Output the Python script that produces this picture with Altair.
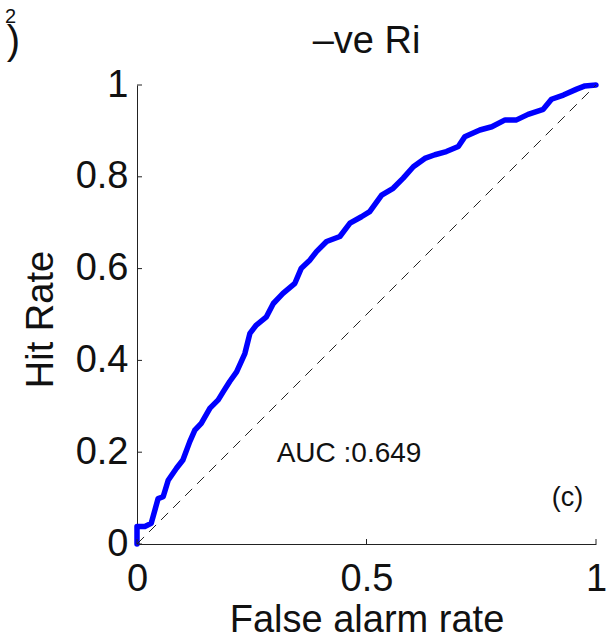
import altair as alt
import pandas as pd

# ROC curve for the negative-Ri class
fpr = [0, 0, 0.017, 0.031, 0.046, 0.057, 0.068, 0.086, 0.100, 0.115, 0.126, 0.140,
       0.159, 0.177, 0.188, 0.202, 0.217, 0.235, 0.246, 0.260, 0.282, 0.297, 0.318,
       0.344, 0.358, 0.377, 0.391, 0.413, 0.442, 0.464, 0.489, 0.507, 0.533, 0.558,
       0.580, 0.602, 0.627, 0.649, 0.674, 0.700, 0.714, 0.747, 0.773, 0.802, 0.827,
       0.852, 0.885, 0.903, 0.929, 0.958, 0.976, 1.0]
tpr = [0, 0.038, 0.038, 0.045, 0.099, 0.103, 0.139, 0.165, 0.183, 0.223, 0.248, 0.263,
       0.296, 0.314, 0.332, 0.354, 0.375, 0.415, 0.459, 0.477, 0.495, 0.524, 0.546,
       0.568, 0.601, 0.619, 0.637, 0.659, 0.670, 0.699, 0.713, 0.724, 0.760, 0.775,
       0.797, 0.822, 0.840, 0.848, 0.855, 0.866, 0.887, 0.902, 0.909, 0.924, 0.924,
       0.936, 0.947, 0.969, 0.978, 0.991, 0.998, 1.0]
chance_x = [0, 1]
chance_y = [0, 1]
x_ticks = [0, 0.5, 1]
y_ticks = [0, 0.2, 0.4, 0.6, 0.8, 1]
panel_title = "–ve Ri"
auc_label = "AUC :0.649"
panel_tag = "(c)"

FONT = "Liberation Sans"
INK = "#111111"
W = H = 459

roc = pd.DataFrame({"x": fpr, "y": tpr, "i": range(len(fpr))})
chance = pd.DataFrame({"x": chance_x, "y": chance_y})
xt = pd.DataFrame({"x": x_ticks})
yt = pd.DataFrame({"y": y_ticks})

xscale = alt.Scale(domain=[0, 1], nice=False, zero=False)
yscale = alt.Scale(domain=[0, 1], nice=False, zero=False)

x_axis = alt.Axis(values=x_ticks, format="~g", title="False alarm rate",
                  titleY=87, titleBaseline="alphabetic", labelPadding=16)
y_axis = alt.Axis(values=y_ticks, format="~g", title="Hit Rate",
                  titleX=-85, titleY=234, titleBaseline="alphabetic",
                  titleAngle=-90, labelPadding=9)

X = alt.X("x:Q", scale=xscale, axis=x_axis)
Y = alt.Y("y:Q", scale=yscale, axis=y_axis)

curve = alt.Chart(roc).mark_line(
    color="#0000ff", strokeWidth=5.5, strokeJoin="round", strokeCap="round"
).encode(x=X, y=Y, order="i:Q")

diag = alt.Chart(chance).mark_line(
    color="#222222", strokeWidth=1, strokeDash=[10, 7]
).encode(x=X, y=Y)

# inward-pointing tick marks
left_ticks = alt.Chart(yt).mark_rule(color="#222222", strokeWidth=1).encode(
    y=Y, x=alt.value(0), x2=alt.value(5)
)
bottom_ticks = alt.Chart(xt).mark_rule(color="#222222", strokeWidth=1).encode(
    x=X, y=alt.value(H), y2=alt.value(H - 5)
)


def label(text, size, align, x, y):
    return alt.Chart(pd.DataFrame({"t": [text]})).mark_text(
        font=FONT, fontSize=size, align=align, baseline="alphabetic", color=INK
    ).encode(x=x, y=y, text="t:N")


title_text = label(panel_title, 38, "center", alt.datum(0.5, scale=xscale), alt.value(-32))
auc_text = label(auc_label, 28, "center",
                 alt.datum(0.462, scale=xscale), alt.datum(0.179, scale=yscale))
tag_text = label(panel_tag, 27, "center",
                 alt.datum(0.938, scale=xscale), alt.datum(0.083, scale=yscale))

# edge of the neighbouring panel's label
edge_paren = label(")", 40, "right", alt.value(-117), alt.value(-31))
edge_sup = label("2", 20, "right", alt.value(-121), alt.value(-62))

chart = alt.layer(
    curve, diag, left_ticks, bottom_ticks, title_text, auc_text, tag_text,
    edge_paren, edge_sup
).properties(
    width=W, height=H,
    autosize=alt.AutoSizeParams(type="none"),
    padding={"left": 137, "top": 85, "right": 10, "bottom": 94},
    background="white",
).configure_view(stroke=None).configure_axis(
    labelFont=FONT, titleFont=FONT, labelFontSize=38, titleFontSize=38,
    labelColor=INK, titleColor=INK, titleFontWeight="normal",
    domainColor="#222222", domainWidth=1, ticks=False, tickSize=0, grid=False,
    labelFlush=False, labelOverlap=False,
)

chart.save("out.html", embed_options={"renderer": "svg", "actions": False})
